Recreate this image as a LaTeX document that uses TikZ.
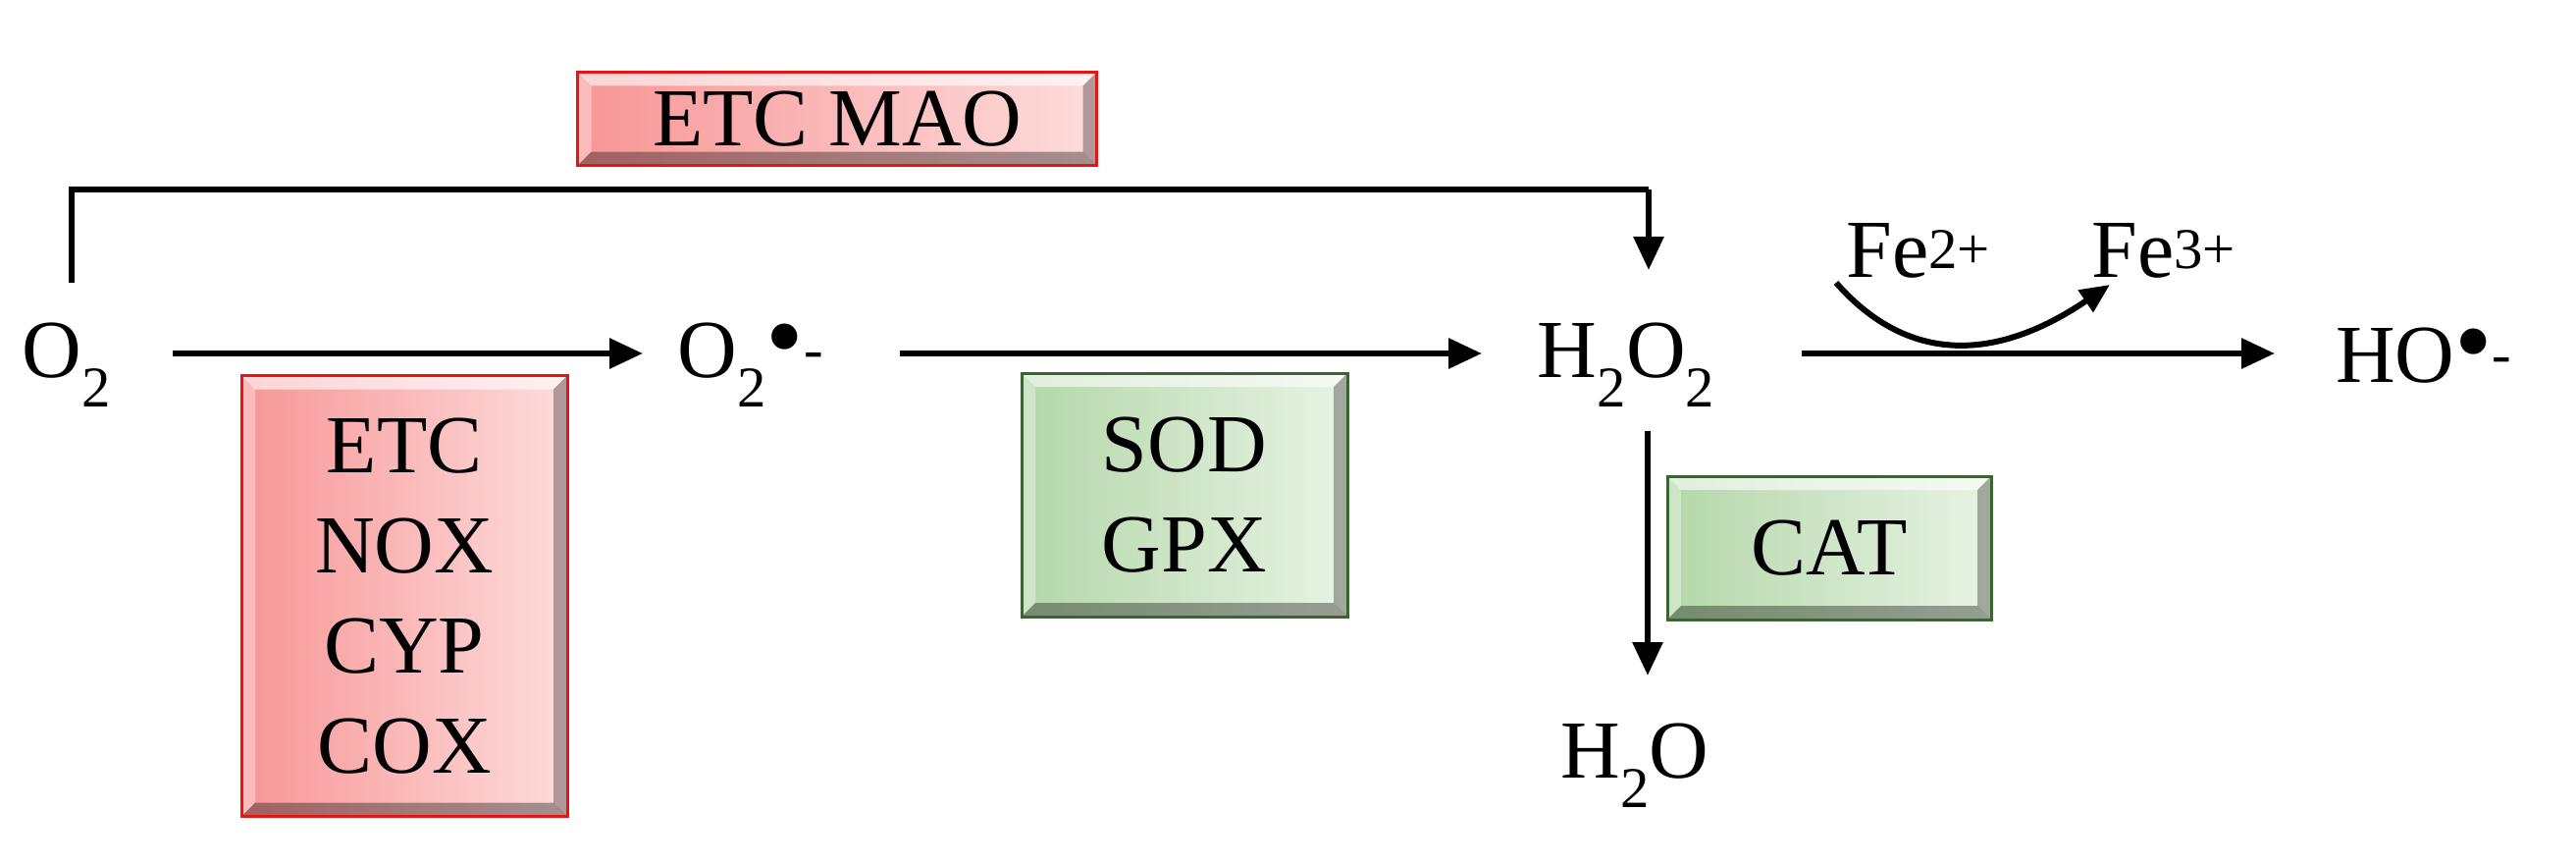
\documentclass[tikz,border=0pt]{standalone}
\usepackage{fontspec}
\setmainfont{Liberation Serif}
\usetikzlibrary{arrows.meta}
\newcommand{\rdot}{{\fontsize{110}{110}\selectfont\raisebox{-4pt}{•}}}
\begin{document}
\begin{tikzpicture}[x=1pt,y=-1pt,
  lbl/.style={font=\fontsize{84}{96}\selectfont, inner sep=0pt},
  bevel/.style={path picture={
    \fill[white,opacity=0.6] (path picture bounding box.north west) -- (path picture bounding box.north east) -- ([xshift=-14pt,yshift=-14pt]path picture bounding box.north east) -- ([xshift=14pt,yshift=-14pt]path picture bounding box.north west) -- cycle;
    \fill[white,opacity=0.35] (path picture bounding box.north west) -- (path picture bounding box.south west) -- ([xshift=14pt,yshift=14pt]path picture bounding box.south west) -- ([xshift=14pt,yshift=-14pt]path picture bounding box.north west) -- cycle;
    \fill[black,opacity=0.35] (path picture bounding box.south west) -- (path picture bounding box.south east) -- ([xshift=-14pt,yshift=14pt]path picture bounding box.south east) -- ([xshift=14pt,yshift=14pt]path picture bounding box.south west) -- cycle;
    \fill[black,opacity=0.3] (path picture bounding box.north east) -- (path picture bounding box.south east) -- ([xshift=-14pt,yshift=14pt]path picture bounding box.south east) -- ([xshift=-14pt,yshift=-14pt]path picture bounding box.north east) -- cycle;
  }},
  redbox/.style={bevel, draw={rgb,255:red,230;green,20;blue,20}, line width=3pt, left color={rgb,255:red,248;green,150;blue,150}, right color={rgb,255:red,253;green,220;blue,220}, font=\fontsize{84}{96}\selectfont, inner sep=0pt, align=center},
  greenbox/.style={bevel, draw={rgb,255:red,60;green,100;blue,50}, line width=3pt, left color={rgb,255:red,180;green,215;blue,170}, right color={rgb,255:red,232;green,243;blue,228}, font=\fontsize{84}{96}\selectfont, inner sep=0pt, align=center},
  arr/.style={line width=6pt, -{Triangle[length=34pt,width=30pt]}}
]
\useasboundingbox (0,0) rectangle (2625,880);
\node[redbox, minimum width=529pt, minimum height=95pt] (mao) at (853,121) {ETC MAO};
\node[redbox, minimum width=332pt, minimum height=449pt] (etc) at (412,607) {ETC\\[6pt]NOX\\[6pt]CYP\\[6pt]COX};
\node[greenbox, minimum width=332pt, minimum height=248pt] (sod) at (1207,504) {SOD\\[6pt]GPX};
\node[greenbox, minimum width=330pt, minimum height=146pt] (cat) at (1864,558) {CAT};

\node[lbl] (o2) at (68,372) {O\textsubscript{2}};
\node[lbl] (sup) at (765,372) {O\textsubscript{2}\textsuperscript{\rdot-}};
\node[lbl] (h2o2) at (1657,372) {H\textsubscript{2}O\textsubscript{2}};
\node[lbl] (ho) at (2470,362) {HO\textsuperscript{\rdot-}};
\node[lbl] (h2o) at (1666,780) {H\textsubscript{2}O};
\node[lbl] (fe2) at (1955,255) {Fe\textsuperscript{2+}};
\node[lbl] (fe3) at (2205,255) {Fe\textsuperscript{3+}};

\coordinate (bl) at (73,288);
\coordinate (br) at (1680,193);
\coordinate (h2top) at (1680,275);
\draw[line width=6pt] (bl) -- (73,193) -- (br);
\draw[arr] (br) -- (h2top);

\draw[arr] (176,360) -- (655,360);
\draw[arr] (917,360) -- (1510,360);
\draw[arr] (1836,360) -- (2318,360);
\draw[arr] (1679,439) -- (1679,688);

\coordinate (c1) at (1871,288);
\coordinate (c2) at (2150,290);
\draw[line width=6pt, -{Triangle[length=30pt,width=26pt]}] (c1) .. controls (1945,372) and (2035,368) .. (c2);
\end{tikzpicture}
\end{document}
